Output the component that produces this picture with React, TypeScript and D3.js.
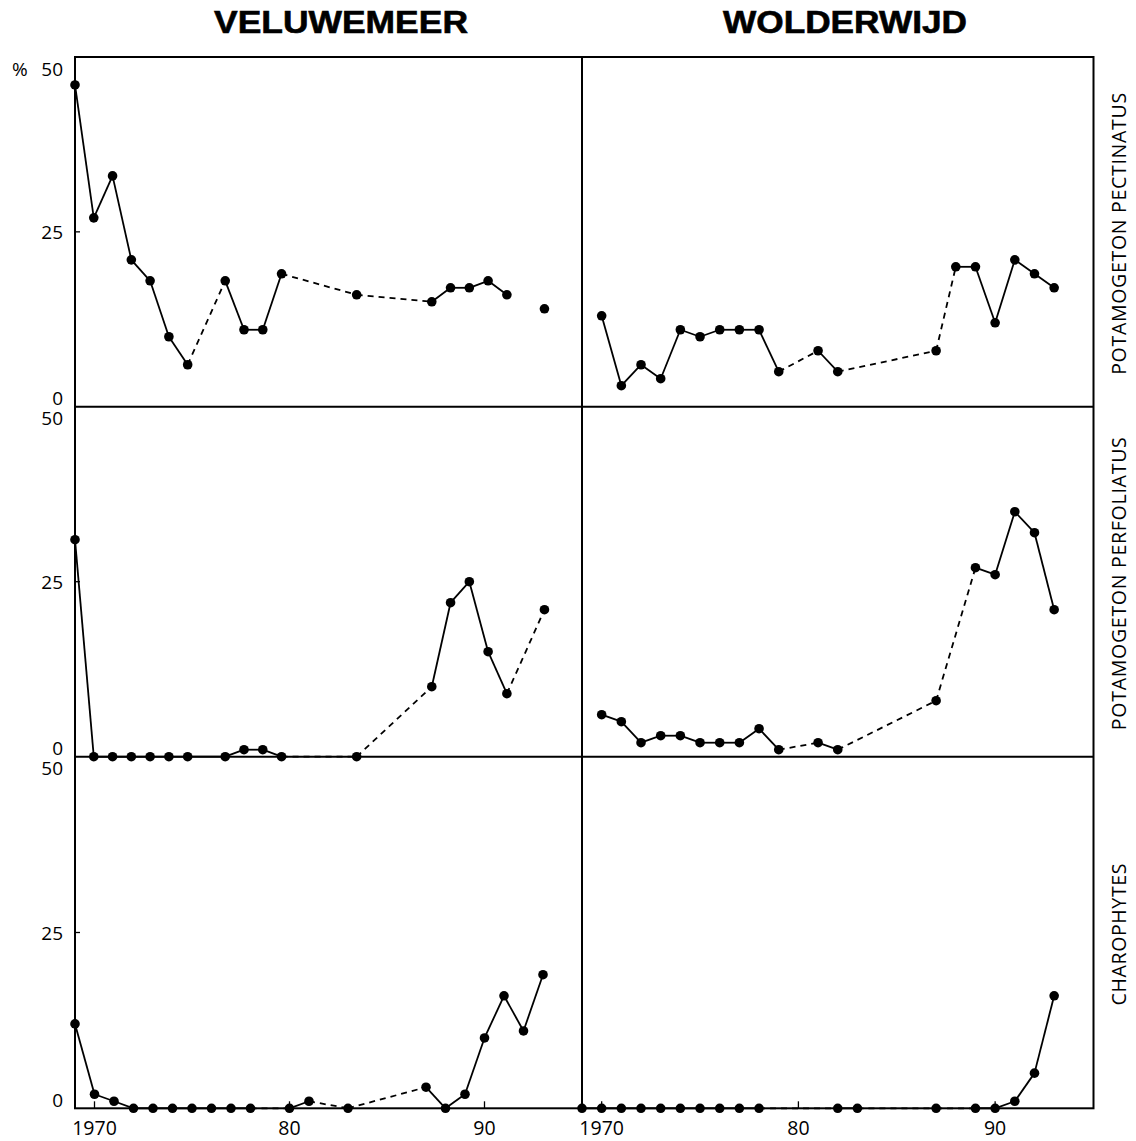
import React from 'react';
import * as d3 from 'd3';

const width = 1136;
const height = 1141;

const lakes = ['VELUWEMEER', 'WOLDERWIJD'];
const species = ['POTAMOGETON PECTINATUS', 'POTAMOGETON PERFOLIATUS', 'CHAROPHYTES'];
const yTicks = [0, 25, 50];
const xTicks = [1970, 1980, 1990];
const xTickLabels = ['1970', '80', '90'];

// % cover per survey year. links: how a point joins the one before it
// s = solid line, d = dashed line, n = not joined
const veluwePectYears = [1969, 1970, 1971, 1972, 1973, 1974, 1975, 1977, 1978, 1979, 1980, 1984, 1988, 1989, 1990, 1991, 1992, 1994];
const veluwePectValues = [46, 27, 33, 21, 18, 10, 6, 18, 11, 11, 19, 16, 15, 17, 17, 18, 16, 14];
const veluwePectLinks = 'ssssssdsssddssssn';

const wolderPectYears = [1970, 1971, 1972, 1973, 1974, 1975, 1976, 1977, 1978, 1979, 1981, 1982, 1987, 1988, 1989, 1990, 1991, 1992, 1993];
const wolderPectValues = [13, 3, 6, 4, 11, 10, 11, 11, 11, 5, 8, 5, 8, 20, 20, 12, 21, 19, 17];
const wolderPectLinks = 'sssssssssdsddsssss';

const veluwePerfYears = [1969, 1970, 1971, 1972, 1973, 1974, 1975, 1977, 1978, 1979, 1980, 1984, 1988, 1989, 1990, 1991, 1992, 1994];
const veluwePerfValues = [31, 0, 0, 0, 0, 0, 0, 0, 1, 1, 0, 0, 10, 22, 25, 15, 9, 21];
const veluwePerfLinks = 'ssssssssssddssssd';

const wolderPerfYears = [1970, 1971, 1972, 1973, 1974, 1975, 1976, 1977, 1978, 1979, 1981, 1982, 1987, 1989, 1990, 1991, 1992, 1993];
const wolderPerfValues = [6, 5, 2, 3, 3, 2, 2, 2, 4, 1, 2, 1, 8, 27, 26, 35, 32, 21];
const wolderPerfLinks = 'sssssssssdsddssss';

const veluweCharYears = [1969, 1970, 1971, 1972, 1973, 1974, 1975, 1976, 1977, 1978, 1980, 1981, 1983, 1987, 1988, 1989, 1990, 1991, 1992, 1993];
const veluweCharValues = [12, 2, 1, 0, 0, 0, 0, 0, 0, 0, 0, 1, 0, 3, 0, 2, 10, 16, 11, 19];
const veluweCharLinks = 'sssssssssdsddssssss';

const wolderCharYears = [1969, 1970, 1971, 1972, 1973, 1974, 1975, 1976, 1977, 1978, 1982, 1983, 1987, 1989, 1990, 1991, 1992, 1993];
const wolderCharValues = [0, 0, 0, 0, 0, 0, 0, 0, 0, 0, 0, 0, 0, 0, 0, 1, 5, 16];
const wolderCharLinks = 'sssssssssdsddssss';

const panels = [
	{ col: 0, row: 0, years: veluwePectYears, values: veluwePectValues, links: veluwePectLinks },
	{ col: 1, row: 0, years: wolderPectYears, values: wolderPectValues, links: wolderPectLinks },
	{ col: 0, row: 1, years: veluwePerfYears, values: veluwePerfValues, links: veluwePerfLinks },
	{ col: 1, row: 1, years: wolderPerfYears, values: wolderPerfValues, links: wolderPerfLinks },
	{ col: 0, row: 2, years: veluweCharYears, values: veluweCharValues, links: veluweCharLinks },
	{ col: 1, row: 2, years: wolderCharYears, values: wolderCharValues, links: wolderCharLinks },
];

// layout
const colX = [75, 582, 1093.5];
const rowY = [57, 406.7, 756.7, 1108.3];
const titleX = [341, 845];
const titleLen = [254, 244];
const sideLen = [282, 293, 142];
const tickFont = '"Open Sans", "DejaVu Sans", sans-serif';

const xTickScale = (col) => d3.scaleLinear().domain([1969, 1995]).range([colX[col], colX[col + 1]]);
// the two upper Veluwemeer graphs were printed on a slightly tighter year spacing
const xDotScale = (col, row) =>
	d3.scaleLinear().domain([1969, col === 0 && row < 2 ? 1996 : 1995]).range([colX[col], colX[col + 1]]);
const yScale = (row) => d3.scaleLinear().domain([0, 50]).range([rowY[row + 1], rowY[row]]);

const line = d3.line();

const Panel = ({ col, row, years, values, links }) => {
	const x = xDotScale(col, row);
	const y = yScale(row);
	const pts = years.map((yr, i) => [x(yr), y(values[i])]);
	return (
		<g>
			{pts.slice(1).map((p, i) =>
				links[i] === 'n' ? null : (
					<path
						key={'l' + i}
						d={line([pts[i], p])}
						fill="none"
						stroke="#000"
						strokeWidth={1.8}
						strokeDasharray={links[i] === 'd' ? '6 5' : null}
					/>
				)
			)}
			{pts.map((p, i) => (
				<circle key={'c' + i} cx={p[0]} cy={p[1]} r={4.8} fill="#000" />
			))}
		</g>
	);
};

const App = () => {
	return (
		<svg width={width} height={height} style={{ position: 'absolute', left: 0, top: 0, background: '#fff' }}>
			<rect width={width} height={height} fill="#fff" />
			{/* titles */}
			{lakes.map((t, i) => (
				<text
					key={t}
					x={titleX[i]}
					y={33}
					textAnchor="middle"
					fontFamily='"Liberation Sans", Arial, sans-serif'
					fontWeight="bold"
					fontSize={31}
					stroke="#000"
					strokeWidth={0.6}
					textLength={titleLen[i]}
					lengthAdjust="spacingAndGlyphs"
				>
					{t}
				</text>
			))}
			{/* species labels on the right */}
			{species.map((s, r) => {
				const cy = (rowY[r] + rowY[r + 1]) / 2 + 2;
				return (
					<text
						key={s}
						transform={`translate(1118,${cy}) rotate(-90)`}
						textAnchor="middle"
						dominantBaseline="central"
						fontFamily={tickFont}
						fontSize={19.5}
						textLength={sideLen[r]}
					>
						{s}
					</text>
				);
			})}
			{/* y tick labels + ticks */}
			{[0, 1, 2].map((r) => {
				const y = yScale(r);
				return (
					<g key={'y' + r} fontFamily={tickFont} fontSize={19} textAnchor="end">
						{yTicks.map((t) => (
							<text
								key={t}
								x={63}
								y={t === 50 ? y(t) + 11.5 : t === 0 ? y(t) - 8.5 : y(t)}
								dominantBaseline="central"
							>
								{t}
							</text>
						))}
						<line x1={colX[0]} x2={colX[0] + 5} y1={y(25)} y2={y(25)} stroke="#000" strokeWidth={1.3} />
					</g>
				);
			})}
			<text x={12} y={yScale(0)(50) + 11.5} dominantBaseline="central" fontFamily={tickFont} fontSize={19}>
				%
			</text>
			{/* x tick labels + ticks */}
			{[0, 1].map((c) => {
				const x = xTickScale(c);
				return (
					<g key={'x' + c} fontFamily={tickFont} fontSize={19.5} textAnchor="middle">
						{xTicks.map((t, i) => (
							<g key={t}>
								<line x1={x(t)} x2={x(t)} y1={rowY[3]} y2={rowY[3] - 7} stroke="#000" strokeWidth={1.3} />
								<text x={x(t)} y={1127} dominantBaseline="central">
									{xTickLabels[i]}
								</text>
							</g>
						))}
					</g>
				);
			})}
			{/* frame */}
			<g stroke="#000" strokeWidth={2} fill="none">
				<rect x={colX[0]} y={rowY[0]} width={colX[2] - colX[0]} height={rowY[3] - rowY[0]} />
				<line x1={colX[1]} x2={colX[1]} y1={rowY[0]} y2={rowY[3]} />
				<line x1={colX[0]} x2={colX[2]} y1={rowY[1]} y2={rowY[1]} />
				<line x1={colX[0]} x2={colX[2]} y1={rowY[2]} y2={rowY[2]} />
			</g>
			{panels.map((p) => (
				<Panel key={p.col + '-' + p.row} {...p} />
			))}
		</svg>
	);
};

export default App;
